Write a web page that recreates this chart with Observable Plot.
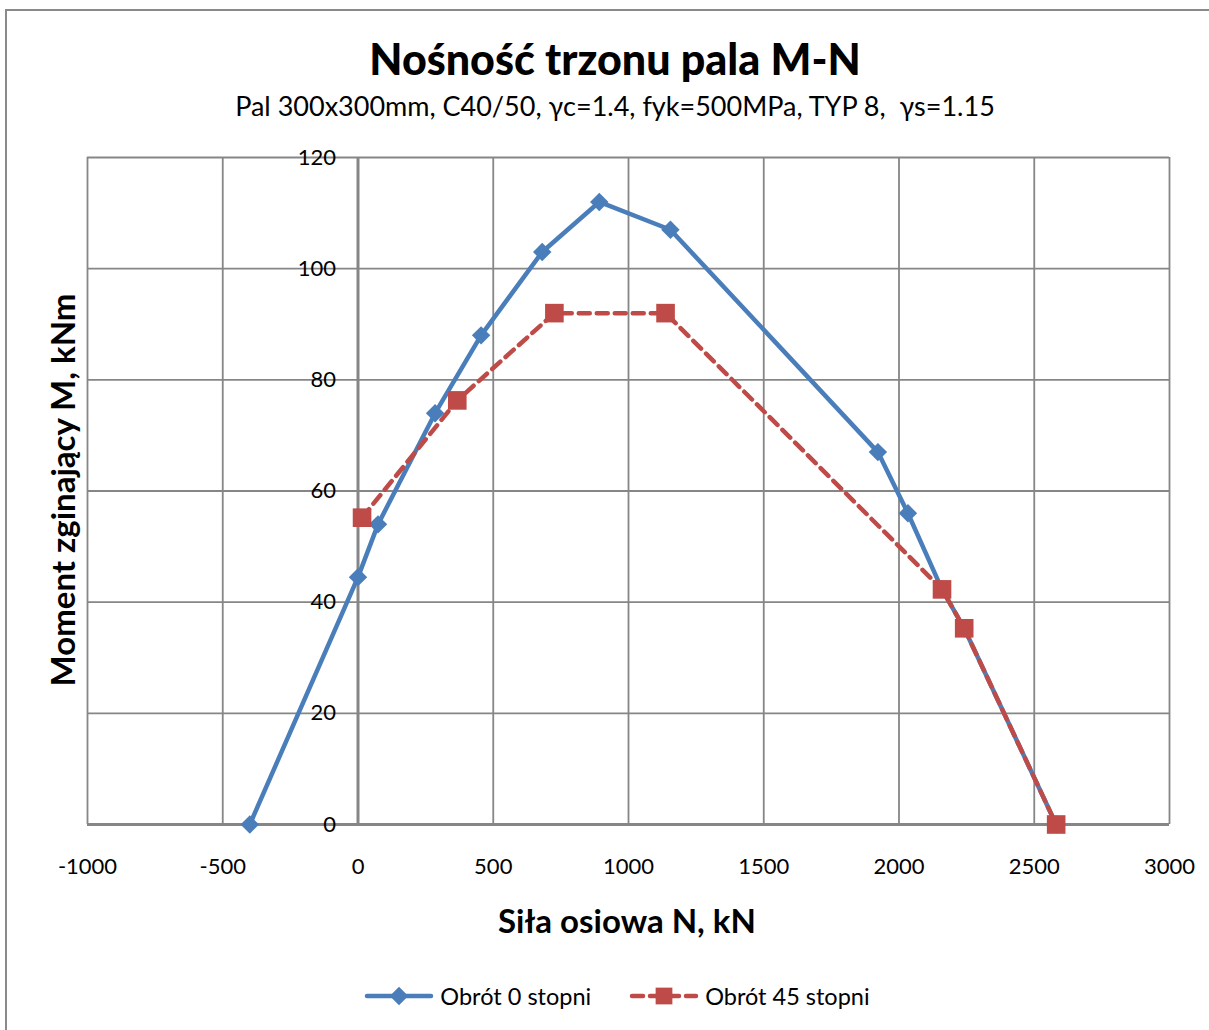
<!DOCTYPE html>
<html>
<head>
<meta charset="utf-8">
<script src="https://cdn.jsdelivr.net/npm/d3@7"></script>
<script src="https://cdn.jsdelivr.net/npm/@observablehq/plot@0.6"></script>
<style>
  html, body { margin: 0; padding: 0; background: #fff; width: 1209px; height: 1030px; overflow: hidden; }
  body { position: relative; font-family: Lato, "Open Sans", sans-serif; color: #000; }
  #border { position: absolute; left: 5px; top: 9px; width: 1300px; height: 1100px; border: 2px solid #8a8a8a; box-sizing: border-box; }
  #chart { position: absolute; left: 0; top: 0; }
  .t { position: absolute; left: 0; width: 1230px; text-align: center; white-space: nowrap; }
  #title { top: 33px; font-size: 43px; font-weight: 900; }
  #subtitle { top: 89px; font-size: 27px; }
  #xtitle { top: 900px; font-size: 33px; font-weight: bold; left: 0; width: 1254px; }
  #ytitle { position: absolute; left: 62px; top: 490px; transform: translate(-50%, -50%) rotate(-90deg); font-size: 33px; font-weight: bold; white-space: nowrap; }
  #legend { position: absolute; top: 982px; left: 0; width: 1234px; display: flex; justify-content: center; align-items: center; font-size: 23.5px; }
  #legend .item { display: flex; align-items: center; margin: 0 19px; }
  #legend svg { margin-right: 6px; }
</style>
</head>
<body>
<div id="border"></div>
<div id="chart"></div>
<div class="t" id="title">Nośność trzonu pala M-N</div>
<div class="t" id="subtitle">Pal 300x300mm, C40/50, γc=1.4, fyk=500MPa, TYP 8,&nbsp; γs=1.15</div>
<div class="t" id="xtitle">Siła osiowa N, kN</div>
<div id="ytitle">Moment zginający M, kNm</div>
<div id="legend"></div>
<script>
// Data
const seriesNames = ["Obrót 0 stopni", "Obrót 45 stopni"];
const blueN = [-400, 0, 74, 285, 455, 681, 892, 1155, 1922, 2033, 2159, 2241, 2581];
const blueM = [0, 44.5, 54, 74, 88, 103, 112, 107, 67, 56, 42.3, 35.3, 0];
const redN = [15, 367, 726, 1137, 2159, 2241, 2581];
const redM = [55.2, 76.3, 92, 92, 42.3, 35.3, 0];
const xTicks = [-1000, -500, 0, 500, 1000, 1500, 2000, 2500, 3000];
const yTicks = [0, 20, 40, 60, 80, 100, 120];

const blueColor = "#4A7EBB";
const redColor = "#BE4B48";
const gridColor = "#868686";

const blue = blueN.map((n, i) => ({N: n, M: blueM[i]}));
const red = redN.map((n, i) => ({N: n, M: redM[i]}));

const chart = Plot.plot({
  width: 1209,
  height: 950,
  marginLeft: 87,
  marginRight: 40,
  marginTop: 157,
  marginBottom: 126,
  style: {fontFamily: "Lato, 'Open Sans', sans-serif", fontSize: "22px", color: "#000", background: "transparent"},
  x: {domain: [-1000, 3000]},
  y: {domain: [0, 120], axis: null},
  marks: [
    Plot.gridX(xTicks, {stroke: gridColor, strokeOpacity: 1, strokeWidth: 1.8}),
    Plot.gridY(yTicks, {stroke: gridColor, strokeOpacity: 1, strokeWidth: 1.8}),
    Plot.ruleX([0], {stroke: gridColor, strokeWidth: 3}),
    Plot.ruleY([0], {stroke: gridColor, strokeWidth: 3}),
    Plot.axisX(xTicks, {tickSize: 0, tickPadding: 34, fontSize: 22, label: null, fill: "#000", tickFormat: d => String(d)}),
    Plot.text(yTicks, {x: () => 0, y: d => d, text: d => String(d), dx: -22, textAnchor: "end", fontSize: 22, fill: "#000"}),
    Plot.line(blue, {x: "N", y: "M", stroke: blueColor, strokeWidth: 4.5}),
    Plot.dot(blue, {x: "N", y: "M", symbol: "diamond2", r: 8.3, fill: blueColor, stroke: "none"}),
    Plot.line(red, {x: "N", y: "M", stroke: redColor, strokeWidth: 4.5, strokeDasharray: "11,7", strokeLinecap: "round"}),
    Plot.dot(red, {x: "N", y: "M", symbol: "square", r: 10.5, fill: redColor, stroke: "none"})
  ]
});
document.getElementById("chart").appendChild(chart);

// Legend
const legend = d3.select("#legend");
const specs = [
  {name: seriesNames[0], color: blueColor, dash: null, symbol: d3.symbolDiamond2, size: 220},
  {name: seriesNames[1], color: redColor, dash: "11,7", symbol: d3.symbolSquare, size: 280}
];
specs.forEach(s => {
  const item = legend.append("div").attr("class", "item");
  const svg = item.append("svg").attr("width", 70).attr("height", 24);
  svg.append("line").attr("x1", 3).attr("x2", 67).attr("y1", 12).attr("y2", 12)
    .attr("stroke", s.color).attr("stroke-width", 4.5).attr("stroke-linecap", "round")
    .attr("stroke-dasharray", s.dash);
  svg.append("path").attr("transform", "translate(35,12)")
    .attr("d", d3.symbol(s.symbol, s.size)()).attr("fill", s.color);
  item.append("span").text(s.name);
});
</script>
</body>
</html>
